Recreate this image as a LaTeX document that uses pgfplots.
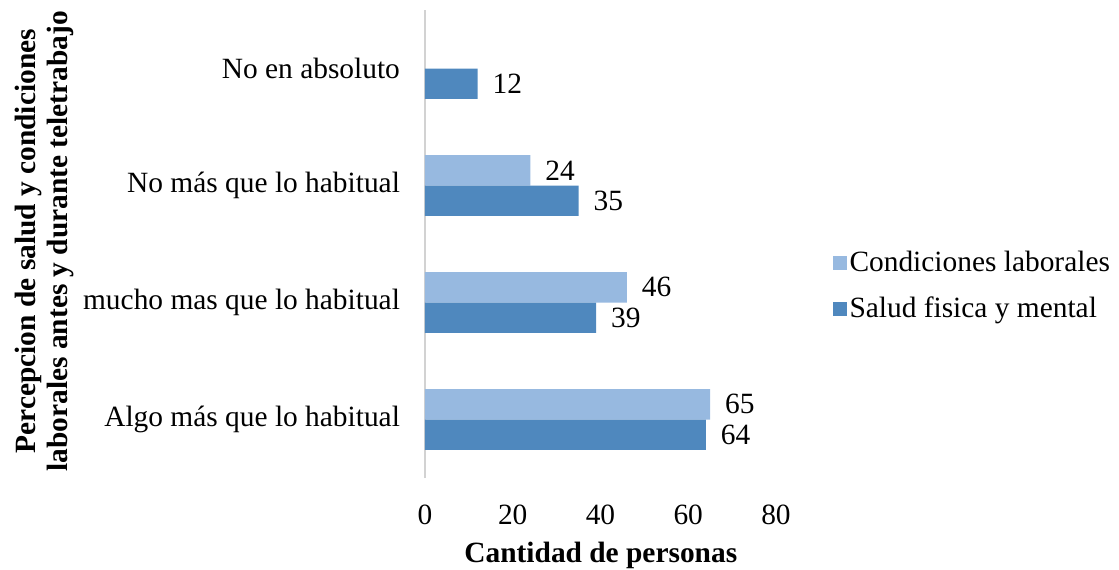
\documentclass[border=0pt]{standalone}
\usepackage{fontspec}
\setmainfont{Liberation Serif}
\usepackage{pgfplots}
\pgfplotsset{compat=1.18}
\definecolor{salud}{HTML}{4F88BE}
\definecolor{cond}{HTML}{97B9E0}
\newcommand{\chartfont}{\fontsize{14.7}{17}\selectfont}

\begin{document}
\begin{tikzpicture}
% page = 1119x569 px at 0.5pt per px; axis box at (0,0)-(175.5pt,234pt)
\useasboundingbox (-212.5pt,-45.5pt) rectangle (347pt,239pt);
\begin{axis}[
    at={(0,0)}, anchor=south west,
    scale only axis,
    width=175.5pt, height=234pt,
    xbar,
    xmin=0, xmax=80,
    ymin=-0.5, ymax=3.5,
    bar width=0.26,
    xtick={0,20,40,60,80},
    ytick={0,1,2,3},
    yticklabels={Algo más que lo habitual, mucho mas que lo habitual, No más que lo habitual, No en absoluto},
    axis lines*=left,
    x axis line style={draw=none},
    y axis line style={draw=gray!35, line width=0.8pt},
    major tick length=0pt,
    tick label style={font=\chartfont},
    /pgf/number format/assume math mode=true,
    xticklabel style={yshift=-10pt},
    yticklabel style={xshift=-9pt},
    xlabel={\textbf{Cantidad de personas}},
    xlabel style={font=\chartfont, at={(axis description cs:0.501,-0.166)}, anchor=center},
    ylabel={\textbf{Percepcion de salud y condiciones}\\\textbf{laborales antes y durante teletrabajo}},
    ylabel style={font=\fontsize{14.7}{16}\selectfont, align=center, at={(axis description cs:-1.083,0.506)}, anchor=center},
    nodes near coords,
    every node near coord/.append style={font=\chartfont, anchor=west, xshift=4pt, black},
    legend style={at={(axis description cs:1.160,0.41)}, anchor=west, draw=none, inner sep=0pt,
        font=\chartfont, row sep=8pt, nodes={inner sep=1.5pt}},
    legend cell align=left,
    legend image code/.code={\fill[#1] (-3pt,-3.5pt) rectangle (4pt,3.5pt);},
    clip=false,
]
\addplot[fill=cond, draw=none, bar shift=0.13] coordinates {(65,0) (46,1) (24,2)};
\addlegendentry{Condiciones laborales}
\addplot[fill=salud, draw=none, bar shift=-0.13] coordinates {(64,0) (39,1) (35,2) (12,3)};
\addlegendentry{Salud fisica y mental}
\end{axis}
\end{tikzpicture}
\end{document}
